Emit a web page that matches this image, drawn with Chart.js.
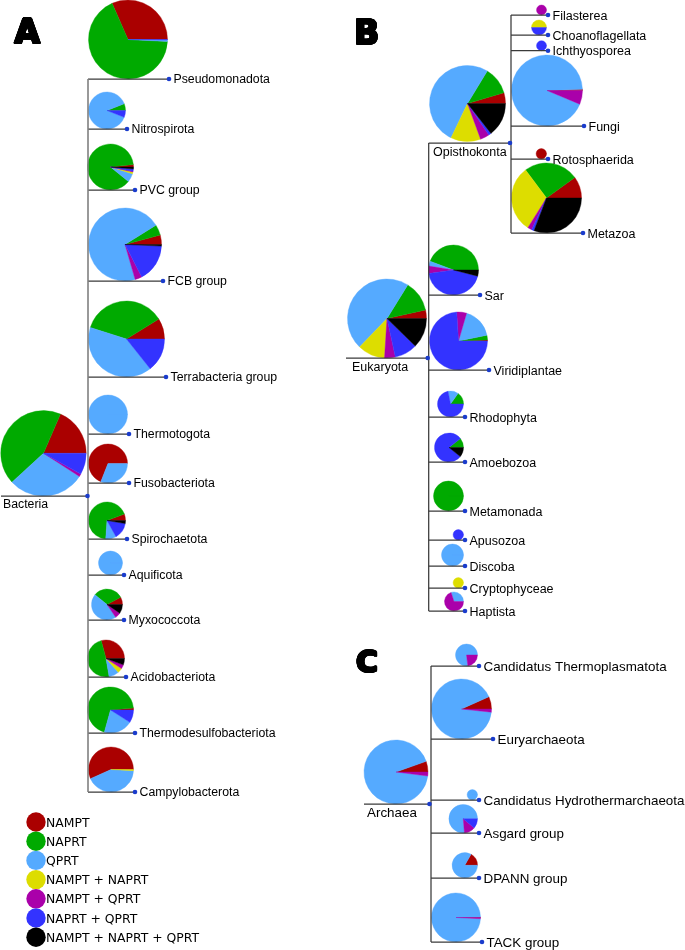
<!DOCTYPE html>
<html><head><meta charset="utf-8">
<script src="https://cdn.jsdelivr.net/npm/chart.js@4.4.1/dist/chart.umd.min.js"></script>
<style>html,body{margin:0;padding:0;background:#fff;overflow:hidden}canvas{display:block}</style>
</head><body>
<canvas id="c" width="685" height="950" style="width:685px;height:950px"></canvas>
<script>
// ---------- DATA ----------
const categories = ['NAMPT','NAPRT','QPRT','NAMPT + NAPRT','NAMPT + QPRT','NAPRT + QPRT','NAMPT + NAPRT + QPRT'];

// Panel A – Bacteria (percent shares per category, order as in `categories`)
const bacteriaRoot = 'Bacteria';
const bacteriaRootShares = [18.5, 43.3, 29.1, 0, 1.0, 8.1, 0];
const bacteriaTaxa = ['Pseudomonadota','Nitrospirota','PVC group','FCB group','Terrabacteria group','Thermotogota','Fusobacteriota','Spirochaetota','Aquificota','Myxococcota','Acidobacteriota','Thermodesulfobacteriota','Campylobacterota'];
const bacteriaShares = [
  [31.6, 67.6, 0.6, 0, 0, 0.2, 0],
  [0, 6, 88, 0, 0, 6, 0],
  [1.7, 87.5, 6, 1.4, 0.5, 1.5, 1.4],
  [4.2, 4.7, 70.6, 0, 3.1, 16.7, 0.7],
  [8.8, 36.3, 40.6, 0, 0, 14.3, 0],
  [0, 0, 100, 0, 0, 0, 0],
  [69, 0, 31, 0, 0, 0, 0],
  [5.6, 68.3, 9.2, 0, 0, 14.2, 2.7],
  [0, 0, 100, 0, 0, 0, 0],
  [7.8, 31.4, 45.3, 0, 6, 0, 9.5],
  [29.2, 48.6, 8.9, 4.2, 3.6, 0, 5.6],
  [1.4, 69.3, 20.3, 0, 0, 9, 0],
  [56.7, 0, 42.5, 0.8, 0, 0, 0]
];

// Panel B – Eukaryota
const eukaryotaRoot = 'Eukaryota';
const eukaryotaRootShares = [3.5, 12.7, 46.6, 11.2, 4.4, 9.3, 12.3];
const opisthokontaNode = 'Opisthokonta';
const opisthokontaShares = [4.6, 11.7, 51.6, 12.7, 3.9, 1.1, 14.4];
const opisthokontaTaxa = ['Filasterea','Choanoflagellata','Ichthyosporea','Fungi','Rotosphaerida','Metazoa'];
const opisthokontaTaxaShares = [
  [0, 0, 0, 0, 100, 0, 0],
  [0, 0, 0, 50, 0, 50, 0],
  [0, 0, 0, 0, 0, 100, 0],
  [0.6, 0, 93.1, 0, 6.3, 0, 0],
  [100, 0, 0, 0, 0, 0, 0],
  [10, 25.2, 0, 30.9, 1.9, 1.2, 30.8]
];
const eukaryotaTaxa = ['Sar','Viridiplantae','Rhodophyta','Amoebozoa','Metamonada','Apusozoa','Discoba','Cryptophyceae','Haptista'];
const eukaryotaShares = [
  [0, 44.3, 3.2, 0, 4.8, 43.7, 4.0],
  [0.6, 2.6, 17.3, 0, 5.5, 74, 0],
  [0, 15.2, 12.9, 0, 0, 71.9, 0],
  [0, 10.6, 0, 0, 0, 78.6, 10.8],
  [0, 100, 0, 0, 0, 0, 0],
  [0, 0, 0, 0, 0, 100, 0],
  [0, 0, 100, 0, 0, 0, 0],
  [0, 0, 0, 100, 0, 0, 0],
  [0, 0, 30, 0, 70, 0, 0]
];

// Panel C – Archaea
const archaeaRoot = 'Archaea';
const archaeaRootShares = [5.4, 0, 92.6, 0, 2, 0, 0];
const archaeaTaxa = ['Candidatus Thermoplasmatota','Euryarchaeota','Candidatus Hydrothermarchaeota','Asgard group','DPANN group','TACK group'];
const archaeaShares = [
  [0, 0, 77, 0, 23, 0, 0],
  [6.7, 0, 91.6, 0, 1.7, 0, 0],
  [0, 0, 100, 0, 0, 0, 0],
  [0, 0, 76.4, 0, 12.5, 11.1, 0],
  [16.8, 0, 83.2, 0, 0, 0, 0],
  [0.3, 0, 98.9, 0, 0.8, 0, 0]
];

// ---------- STYLE / LAYOUT ----------
const sliceColors = ['#aa0000','#00aa00','#55aaff','#dddd00','#aa00aa','#3333ff','#000000'];
const dotColor = '#1a3ccc';
const lineColor = '#3a3a3a';
const FONT = '"Liberation Sans", Arial, sans-serif';

// leaf layout: [branchY, tipX, pieRadius]
const layoutA = { trunkX: 88, trunkColor: '#808080', trunkWidth: 1.6, font: 12.3,
  leaves: [[79,169,39.5],[129,127,18.5],[190,135,23],[281,163,36.5],[377,166,38],[434,129,19.5],[483,129,19.5],[539,127,18.5],[575,124,12],[620,124,15.5],[677,126,18.5],[733,135,23],[792,135,22.5]],
  root: { y: 496, x0: 1, cx: 43.5, cy: 453.3, r: 42.7, labelX: 3, labelBase: 507.5 } };
const layoutOpi = { trunkX: 511, font: 12.5,
  leaves: [[15,548,5],[35,548,7.5],[50.7,548,5],[126,584,35.5],[159,548,5.2],[233,583,35]],
  node: { y: 143, cx: 467.5, cy: 103.5, r: 38, labelX: 433, labelBase: 155.5 } };
const layoutB = { trunkX: 428.7, font: 12.5,
  leaves: [[295,480,25],[370,489,29],[417,465,13],[462,465,14.5],[511,465,15],[540,465,5.2],[566,465,11],[588,465,5.2],[611,465,9.5]],
  root: { y: 358, x0: 346, cx: 387, cy: 318.5, r: 39.5, labelX: 352, labelBase: 370.5 } };
const layoutC = { trunkX: 431, font: 13.4,
  leaves: [[666,479,11],[739,493,30],[800,479,5.2],[833,479,14.3],[878,479,12.7],[942,482,24.5]],
  root: { y: 804, x0: 364, cx: 396, cy: 772, r: 32, labelX: 367, labelBase: 817 } };

// ---------- BUILD ----------
const segments = [];   // {pts, color, width}
const dots = [];
const pies = [];
const labels = [];     // {text, x, base, size}

function seg(x1,y1,x2,y2,color,width){ segments.push({pts:[{x:x1,y:y1},{x:x2,y:y2}], color: color||lineColor, width: width||1.25}); }

function addLeaves(layout, names, shares, gap){
  layout.leaves.forEach((L,i)=>{
    const [by, tx, r] = L;
    seg(layout.trunkX, by, tx, by);
    dots.push({x:tx, y:by});
    pies.push({cx: tx - gap - r, cy: by - r, r: r, shares: shares[i]});
    labels.push({text: names[i], x: tx + 4.5, base: by + 0.36*layout.font, size: layout.font});
  });
}

// Panel A
seg(layoutA.trunkX, layoutA.leaves[0][0], layoutA.trunkX, layoutA.leaves[layoutA.leaves.length-1][0], layoutA.trunkColor, layoutA.trunkWidth);
seg(layoutA.root.x0, layoutA.root.y, layoutA.trunkX, layoutA.root.y);
dots.push({x: layoutA.trunkX - 0.5, y: layoutA.root.y});
pies.push({cx: layoutA.root.cx, cy: layoutA.root.cy, r: layoutA.root.r, shares: bacteriaRootShares});
labels.push({text: bacteriaRoot, x: layoutA.root.labelX, base: layoutA.root.labelBase, size: layoutA.font});
addLeaves(layoutA, bacteriaTaxa, bacteriaShares, 1.5);

// Panel B
seg(layoutOpi.trunkX, layoutOpi.leaves[0][0], layoutOpi.trunkX, layoutOpi.leaves[layoutOpi.leaves.length-1][0]);
seg(layoutB.trunkX, layoutOpi.node.y, layoutOpi.trunkX, layoutOpi.node.y);
dots.push({x: layoutOpi.trunkX - 1, y: layoutOpi.node.y});
pies.push({cx: layoutOpi.node.cx, cy: layoutOpi.node.cy, r: layoutOpi.node.r, shares: opisthokontaShares});
labels.push({text: opisthokontaNode, x: layoutOpi.node.labelX, base: layoutOpi.node.labelBase, size: layoutOpi.font});
addLeaves(layoutOpi, opisthokontaTaxa, opisthokontaTaxaShares, 1.5);

seg(layoutB.trunkX, layoutOpi.node.y, layoutB.trunkX, layoutB.leaves[layoutB.leaves.length-1][0]);
seg(layoutB.root.x0, layoutB.root.y, layoutB.trunkX, layoutB.root.y);
dots.push({x: layoutB.trunkX - 1, y: layoutB.root.y});
pies.push({cx: layoutB.root.cx, cy: layoutB.root.cy, r: layoutB.root.r, shares: eukaryotaRootShares});
labels.push({text: eukaryotaRoot, x: layoutB.root.labelX, base: layoutB.root.labelBase, size: layoutB.font});
addLeaves(layoutB, eukaryotaTaxa, eukaryotaShares, 1.5);

// Panel C
seg(layoutC.trunkX, layoutC.leaves[0][0], layoutC.trunkX, layoutC.leaves[layoutC.leaves.length-1][0]);
seg(layoutC.root.x0, layoutC.root.y, layoutC.trunkX, layoutC.root.y);
dots.push({x: layoutC.trunkX - 1.5, y: layoutC.root.y});
pies.push({cx: layoutC.root.cx, cy: layoutC.root.cy, r: layoutC.root.r, shares: archaeaRootShares});
labels.push({text: archaeaRoot, x: layoutC.root.labelX, base: layoutC.root.labelBase, size: layoutC.font});
addLeaves(layoutC, archaeaTaxa, archaeaShares, 1.5);

// ---------- DATASETS ----------
const datasets = [{
  label: 'nodes', data: dots, pointRadius: 2.3, pointBackgroundColor: dotColor, pointBorderWidth: 0, showLine: false
}];
segments.forEach(s => datasets.push({
  label: 'branch', data: s.pts, showLine: true, pointRadius: 0, borderColor: s.color, borderWidth: s.width, fill: false
}));

// ---------- PLUGINS ----------
const piePlugin = {
  id: 'pies',
  beforeDatasetsDraw(chart){
    const {ctx, scales:{x, y}} = chart;
    ctx.save();
    pies.forEach(p => {
      const px = x.getPixelForValue(p.cx), py = y.getPixelForValue(p.cy);
      const pr = Math.abs(x.getPixelForValue(p.cx + p.r) - px);
      const total = p.shares.reduce((a,b)=>a+b,0);
      let a0 = 0;
      p.shares.forEach((v,i) => {
        if (v <= 0) return;
        const a1 = a0 + v/total*2*Math.PI;
        ctx.beginPath();
        ctx.moveTo(px,py);
        ctx.arc(px, py, pr, -a0, -a1, true);
        ctx.closePath();
        ctx.fillStyle = sliceColors[i];
        ctx.fill();
        ctx.strokeStyle = sliceColors[i];
        ctx.lineWidth = 0.4;
        ctx.stroke();
        a0 = a1;
      });
    });
    ctx.restore();
  }
};

// heavy panel letter: repeated fills in a small disk to imitate a black weight
function heavyText(ctx, t, px, py, w){
  for (let a = 0; a < 16; a++) {
    const ang = a / 16 * Math.PI * 2;
    ctx.fillText(t, px + Math.cos(ang) * w, py + Math.sin(ang) * w);
  }
  ctx.fillText(t, px, py);
}

const textPlugin = {
  id: 'texts',
  afterDatasetsDraw(chart){
    const {ctx, scales:{x, y}} = chart;
    ctx.save();
    ctx.fillStyle = '#000';
    ctx.textAlign = 'left';
    ctx.textBaseline = 'alphabetic';
    labels.forEach(l => {
      ctx.font = l.size + 'px ' + FONT;
      ctx.fillText(l.text, x.getPixelForValue(l.x), y.getPixelForValue(l.base));
    });
    // panel letters
    ctx.font = 'bold 33px "DejaVu Sans", sans-serif';
    heavyText(ctx, 'A', x.getPixelForValue(14.4), y.getPixelForValue(43.3), 1.1);
    heavyText(ctx, 'B', x.getPixelForValue(354), y.getPixelForValue(44), 1.1);
    ctx.font = 'bold 30px "DejaVu Sans", sans-serif';
    heavyText(ctx, 'C', x.getPixelForValue(356), y.getPixelForValue(672.3), 1.1);
    // legend
    const legX = 36, legY0 = 822, legStep = 19.2, legR = 9.7;
    ctx.font = '12.4px "DejaVu Sans", sans-serif';
    categories.forEach((c,i) => {
      const cy = legY0 + i*legStep;
      ctx.beginPath();
      ctx.arc(x.getPixelForValue(legX), y.getPixelForValue(cy), legR, 0, Math.PI*2);
      ctx.fillStyle = sliceColors[i];
      ctx.fill();
      ctx.fillStyle = '#000';
      ctx.fillText(c, x.getPixelForValue(46), y.getPixelForValue(cy + 4.6));
    });
    ctx.restore();
  }
};

new Chart(document.getElementById('c'), {
  type: 'scatter',
  data: { datasets },
  options: {
    responsive: false,
    animation: false,
    events: [],
    layout: { padding: 0, autoPadding: false },
    scales: {
      x: { type: 'linear', min: 0, max: 685, display: false },
      y: { type: 'linear', min: 0, max: 950, reverse: true, display: false }
    },
    plugins: { legend: { display: false }, tooltip: { enabled: false } }
  },
  plugins: [piePlugin, textPlugin]
});
</script>
</body></html>
